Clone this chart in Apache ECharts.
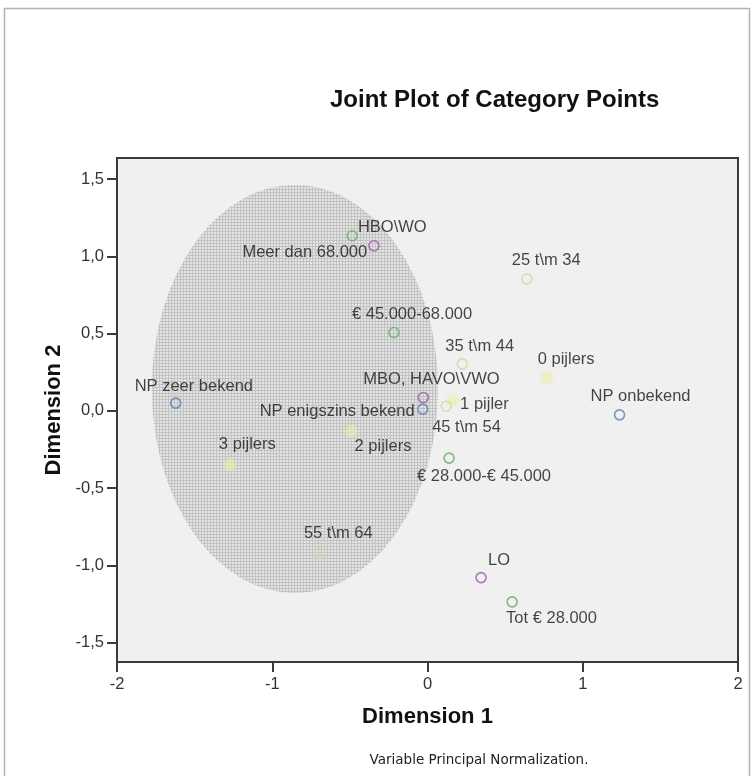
<!DOCTYPE html>
<html>
<head>
<meta charset="utf-8">
<script src="https://cdn.jsdelivr.net/npm/echarts@6/dist/echarts.min.js"></script>
<style>
  html, body { margin: 0; padding: 0; background: #ffffff; }
  #chart { width: 753px; height: 776px; }
</style>
</head>
<body>
<div id="chart"></div>
<script>
// Category points of the joint plot, grouped by variable (Dimension 1, Dimension 2)
const bekendheidNames = ['NP zeer bekend', 'NP enigszins bekend', 'NP onbekend'];
const bekendheidDim1 = [-1.622, -0.031, 1.237];
const bekendheidDim2 = [0.050, 0.011, -0.026];

const opleidingNames = ['HBO\\WO', 'MBO, HAVO\\VWO', 'LO'];
const opleidingDim1 = [-0.345, -0.027, 0.345];
const opleidingDim2 = [1.068, 0.086, -1.079];

const inkomenNames = ['Meer dan 68.000', '€ 45.000-68.000', '€ 28.000-€ 45.000', 'Tot € 28.000'];
const inkomenDim1 = [-0.485, -0.216, 0.139, 0.545];
const inkomenDim2 = [1.133, 0.507, -0.306, -1.236];

const leeftijdNames = ['25 t\\m 34', '35 t\\m 44', '45 t\\m 54', '55 t\\m 64'];
const leeftijdDim1 = [0.640, 0.224, 0.120, -0.693];
const leeftijdDim2 = [0.854, 0.304, 0.030, -0.921];

const pijlersNames = ['0 pijlers', '1 pijler', '2 pijlers', '3 pijlers'];
const pijlersDim1 = [0.768, 0.165, -0.489, -1.273];
const pijlersDim2 = [0.212, 0.070, -0.134, -0.350];

// Shaded cluster region: centre (dim1, dim2) and half-axes (dim1, dim2)
const regionCenter = [-0.854, 0.142];
const regionRadii = [0.922, 1.320];

// Axis ticks
const xTicks = [-2, -1, 0, 1, 2];
const yTicks = [-1.5, -1.0, -0.5, 0.0, 0.5, 1.0, 1.5];

// Label placement relative to each point: [dx, dy, align]
const labelPlacement = {
  'NP zeer bekend': [-41, -17, 'left'],
  'NP enigszins bekend': [-8, 2, 'right'],
  'NP onbekend': [-29, -18, 'left'],
  'HBO\\WO': [-16, -18, 'left'],
  'MBO, HAVO\\VWO': [-60, -18, 'left'],
  'LO': [7, -17, 'left'],
  'Meer dan 68.000': [15, 17, 'right'],
  '€ 45.000-68.000': [-42, -18, 'left'],
  '€ 28.000-€ 45.000': [-32, 18, 'left'],
  'Tot € 28.000': [-6, 17, 'left'],
  '25 t\\m 34': [-15, -18, 'left'],
  '35 t\\m 44': [-17, -17, 'left'],
  '45 t\\m 54': [-14, 21, 'left'],
  '55 t\\m 64': [-16, -20, 'left'],
  '0 pijlers': [-9, -19, 'left'],
  '1 pijler': [7, 4, 'left'],
  '2 pijlers': [3, 15, 'left'],
  '3 pijlers': [-11, -20, 'left']
};

const FONT = '"Liberation Sans", Arial, sans-serif';

function buildPoints(names, d1, d2) {
  return names.map((n, i) => {
    const p = labelPlacement[n];
    return {
      name: n,
      value: [d1[i], d2[i]],
      label: { offset: [p[0], p[1]], align: p[2] }
    };
  });
}

const labelStyle = {
  show: true, position: 'inside', formatter: '{b}',
  color: '#181818', fontSize: 16.5, fontFamily: FONT, verticalAlign: 'middle'
};

function ringSeries(name, names, d1, d2, color) {
  return {
    name: name,
    type: 'scatter',
    symbol: 'circle',
    symbolSize: 10,
    z: 5,
    itemStyle: { color: 'rgba(0,0,0,0)', borderColor: color, borderWidth: 1.6 },
    label: labelStyle,
    emphasis: { disabled: true },
    data: buildPoints(names, d1, d2)
  };
}

// Dotted fill for the shaded region
function dotPattern() {
  const c = document.createElement('canvas');
  c.width = 3; c.height = 3;
  const g = c.getContext('2d');
  g.fillStyle = '#e4e4e4';
  g.fillRect(0, 0, 3, 3);
  g.fillStyle = '#c2c2c2';
  g.fillRect(0, 0, 3, 1);
  g.fillRect(0, 0, 1, 3);
  return c;
}

const chart = echarts.init(document.getElementById('chart'), null, { renderer: 'canvas' });

const fmtY = v => v.toFixed(1).replace('.', ',');

chart.setOption({
  animation: false,
  backgroundColor: '#ffffff',
  title: {
    text: 'Joint Plot of Category Points',
    left: 325, top: 83,
    textStyle: { fontFamily: FONT, fontSize: 24, fontWeight: 'bold', color: '#111111' }
  },
  grid: {
    left: 117, top: 158, width: 621, height: 504,
    show: true, backgroundColor: '#f0f0f0', borderColor: '#3a3a3a', borderWidth: 2
  },
  xAxis: {
    type: 'value', min: -2, max: 2, interval: 1,
    name: 'Dimension 1', nameLocation: 'middle', nameGap: 44,
    nameTextStyle: { fontFamily: FONT, fontSize: 22, fontWeight: 'bold', color: '#111111' },
    axisLine: { show: true, onZero: false, lineStyle: { color: '#3a3a3a', width: 2 } },
    axisTick: { show: true, inside: false, length: 10, customValues: xTicks, lineStyle: { color: '#3a3a3a', width: 2 } },
    axisLabel: { fontFamily: FONT, fontSize: 16.5, color: '#333333', margin: 14, customValues: xTicks, formatter: v => String(v) },
    splitLine: { show: false }
  },
  yAxis: {
    type: 'value', min: -1.625, max: 1.636,
    name: 'Dimension 2', nameLocation: 'middle', nameGap: 52, nameRotate: 90,
    nameTextStyle: { fontFamily: FONT, fontSize: 22, fontWeight: 'bold', color: '#111111' },
    axisLine: { show: true, onZero: false, lineStyle: { color: '#3a3a3a', width: 2 } },
    axisTick: { show: true, inside: false, length: 10, customValues: yTicks, lineStyle: { color: '#3a3a3a', width: 2 } },
    axisLabel: { fontFamily: FONT, fontSize: 16.5, color: '#333333', margin: 13, customValues: yTicks, formatter: fmtY },
    splitLine: { show: false }
  },
  graphic: [
    {
      type: 'rect', z: -10, silent: true,
      shape: { x: 4.5, y: 8.5, width: 745, height: 800 },
      style: { fill: 'none', stroke: '#b4b4b4', lineWidth: 1.5 }
    },
    {
      type: 'text', silent: true,
      x: 479, y: 760,
      style: {
        text: 'Variable Principal Normalization.',
        fontFamily: '"DejaVu Sans", sans-serif', fontSize: 13.5, fill: '#222222',
        align: 'center', verticalAlign: 'middle'
      }
    }
  ],
  series: [
    {
      type: 'custom',
      z: 1,
      silent: true,
      renderItem: function (params, api) {
        const c = api.coord([api.value(0), api.value(1)]);
        const s = api.size([api.value(2), api.value(3)]);
        const rx = s[0], ry = s[1];
        const d = 'M ' + (c[0] - rx) + ' ' + c[1] +
          ' A ' + rx + ' ' + ry + ' 0 1 0 ' + (c[0] + rx) + ' ' + c[1] +
          ' A ' + rx + ' ' + ry + ' 0 1 0 ' + (c[0] - rx) + ' ' + c[1] + ' Z';
        return {
          type: 'path',
          shape: { pathData: d },
          style: { fill: { image: dotPattern(), repeat: 'repeat' }, stroke: null }
        };
      },
      data: [[regionCenter[0], regionCenter[1], regionRadii[0], regionRadii[1]]]
    },
    {
      name: 'Pijlers',
      type: 'scatter',
      symbol: 'circle',
      symbolSize: 12,
      z: 4,
      itemStyle: { color: 'rgba(238,238,170,0.6)', shadowBlur: 4, shadowColor: 'rgba(235,235,165,0.7)' },
      label: labelStyle,
      emphasis: { disabled: true },
      data: buildPoints(pijlersNames, pijlersDim1, pijlersDim2)
    },
    ringSeries('Leeftijd', leeftijdNames, leeftijdDim1, leeftijdDim2, '#d6d69c'),
    ringSeries('Bekendheid', bekendheidNames, bekendheidDim1, bekendheidDim2, '#5b7db5'),
    ringSeries('Inkomen', inkomenNames, inkomenDim1, inkomenDim2, '#62b062'),
    ringSeries('Opleiding', opleidingNames, opleidingDim1, opleidingDim2, '#9c5aaa')
  ]
});
</script>
</body>
</html>
